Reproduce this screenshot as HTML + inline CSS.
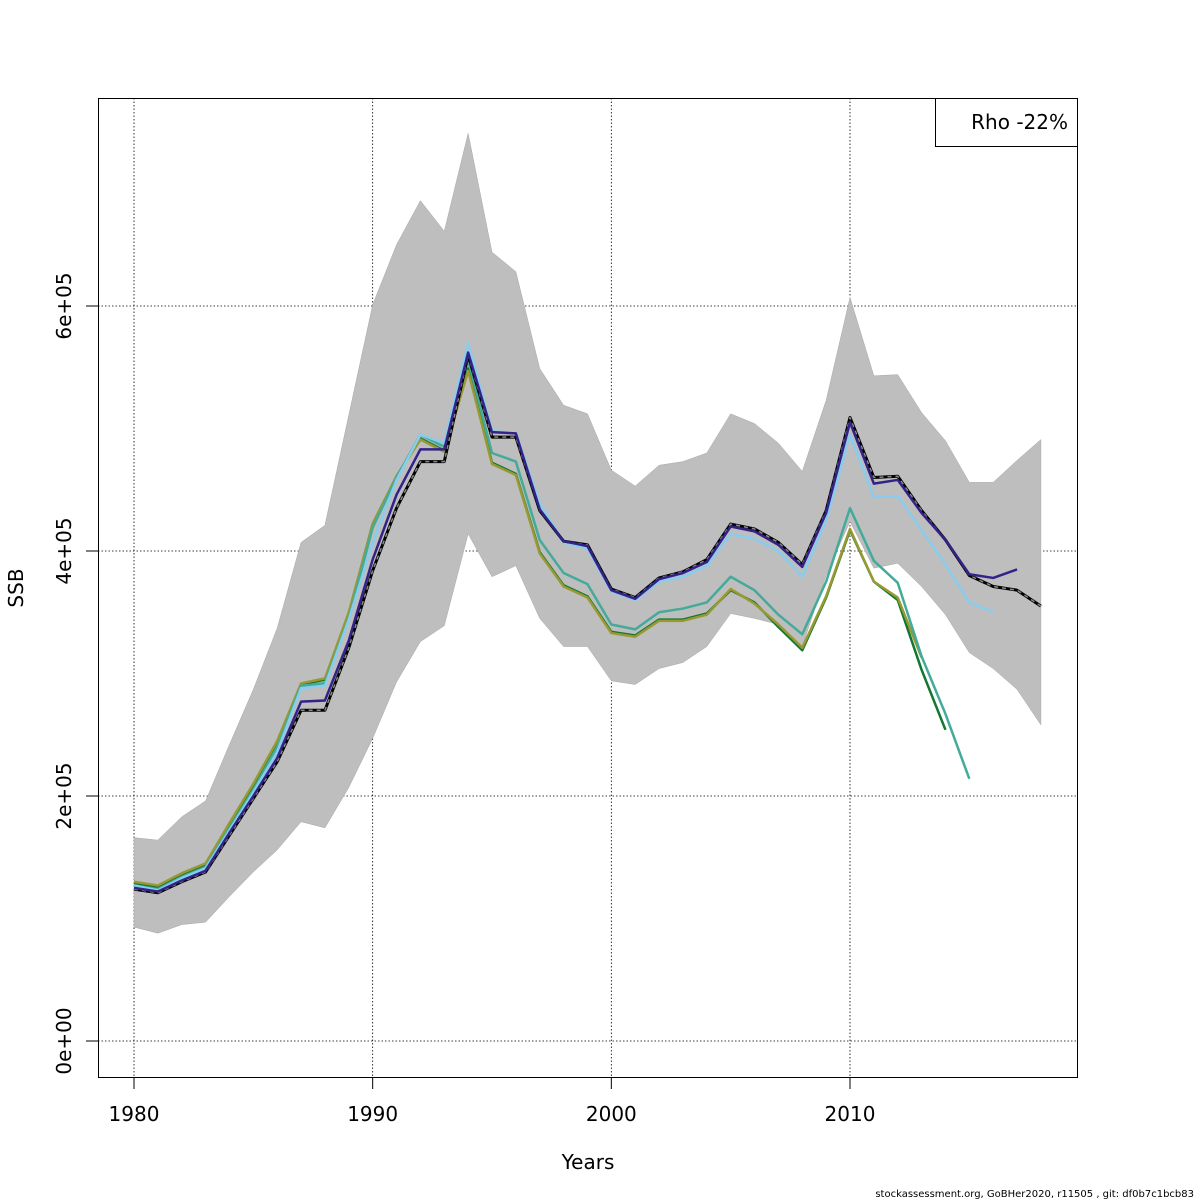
<!DOCTYPE html>
<html><head><meta charset="utf-8"><style>
html,body{margin:0;padding:0;background:#fff;}
svg{display:block;font-family:"DejaVu Sans","Liberation Sans",sans-serif;}
</style></head><body>
<svg id="chart" width="1200" height="1200" viewBox="0 0 1200 1200" xmlns="http://www.w3.org/2000/svg">
<g id="grid"></g>
<g id="band"></g>
<g id="lines"></g>
<rect x="98.5" y="98.5" width="979" height="979" fill="none" stroke="#000" stroke-width="1"/>
<g id="axes"></g>
<text x="588" y="1169" font-size="20" text-anchor="middle">Years</text>
<text transform="translate(23,588) rotate(-90)" font-size="20" text-anchor="middle">SSB</text>
<g>
<rect x="935.5" y="98.5" width="142" height="48" fill="#fff" stroke="#000"/>
<text x="1068" y="129" font-size="20" text-anchor="end">Rho -22%</text>
</g>
<text x="1194" y="1197" font-size="10" text-anchor="end">stockassessment.org, GoBHer2020, r11505 , git: df0b7c1bcb83</text>
</svg>
<script>
const years = [1980,1981,1982,1983,1984,1985,1986,1987,1988,1989,1990,1991,1992,1993,1994,1995,1996,1997,1998,1999,2000,2001,2002,2003,2004,2005,2006,2007,2008,2009,2010,2011,2012,2013,2014,2015,2016,2017,2018];
const bandUpper = [166,164,183,196,242,287,337,407,421,511,601,650,686,661,741,644,628,549,519,512,466,453,470,473,480,512,504,488,465,523,607,543,544,513,490,456,456,474,491];
const bandLower = [93,88,95,97,118,138,156,179,174,207,247,293,326,339,414,379,388,345,322,322,294,291,304,309,322,349,345,340,322,380,424,386,390,371,348,317,304,287,258];
const base = [124,121,130,138,168,198,228,270,270,321,384,435,473,473,560,493,493,433,408,405,369,362,378,383,393,422,418,407,389,433,509,460,461,433,409,380,371,368,355];
const peel1 = [125,122,131,139,170,200,231,277,278,327,393,446,483,483,562,497,496,434,408,404,368,361,377,382,391,420,416,405,387,431,505,455,458,431,409,381,378,385];
const peel2 = [127,123,133,141,172,203,236,288,290,344,407,458,495,488,570,498,496,439,407,402,367,360,375,379,388,414,410,400,379,425,495,444,445,417,389,358,350];
const peel3 = [127,124,134,142,174,205,240,290,292,345,419,460,495,485,556,480,473,409,382,373,340,336,350,353,358,379,368,348,332,375,435,392,374,314,267,214];
const peel4 = [129,125,136,144,177,209,244,291,295,349,422,461,492,482,549,472,463,399,372,363,334,331,344,344,349,368,358,338,319,362,417,375,360,303,254];
const peel5 = [130,127,137,145,178,210,245,292,296,350,422,461,491,481,547,471,462,398,371,362,333,330,343,343,348,369,357,340,321,363,418,375,362,313];
const yTicks = [0,200,400,600];
const yTickLabels = ["0e+00","2e+05","4e+05","6e+05"];
const xTicks = [1980,1990,2000,2010];

const NS="http://www.w3.org/2000/svg";
const X = y => 134 + (y-1980)*(850-134)/30;
const Y = v => 1041 - v*(245/200);
function mk(tag, attrs, parent){const e=document.createElementNS(NS,tag);for(const k in attrs)e.setAttribute(k,attrs[k]);parent.appendChild(e);return e;}
const grid=document.getElementById('grid'), band=document.getElementById('band'), lines=document.getElementById('lines'), axes=document.getElementById('axes');

xTicks.forEach(t=>{
  const l=mk('line',{x1:X(t),x2:X(t),y1:98,y2:1077,stroke:'#000','stroke-width':0.8,'stroke-dasharray':'1.5,2'},grid);
  
  
  const tk=mk('line',{x1:X(t),x2:X(t),y1:1077,y2:1089,stroke:'#000'},axes);
  
  
  const tx=mk('text',{x:X(t),y:1121,'font-size':20,'text-anchor':'middle'},axes);
  tx.textContent=t;
  
  
});
yTicks.forEach((t,i)=>{
  const l=mk('line',{x1:98,x2:1077,y1:Y(t),y2:Y(t),stroke:'#000','stroke-width':0.8,'stroke-dasharray':'1.5,2'},grid);
  
  
  const tk=mk('line',{x1:86,x2:98,y1:Y(t),y2:Y(t),stroke:'#000'},axes);
  
  
  const tx=mk('text',{transform:`translate(71,${Y(t)}) rotate(-90)`,'font-size':20,'text-anchor':'middle'},axes);
  tx.textContent=yTickLabels[i];
  
  
});

let pts=years.map((y,i)=>X(y)+','+Y(bandUpper[i]));
for(let i=years.length-1;i>=0;i--) pts.push(X(years[i])+','+Y(bandLower[i]));
const poly=mk('polygon',{points:pts.join(' '),fill:'#bebebe',stroke:'#a8a8a8','stroke-width':0.5},band);



function line(arr,color,name,w,dash){
  const p=arr.map((v,i)=>X(years[i])+','+Y(v)).join(' ');
  const a={points:p,fill:'none',stroke:color,'stroke-width':w,'stroke-linejoin':'round'};
  if(dash)a['stroke-dasharray']=dash;
  const e=mk('polyline',a,lines);
  
  
}
line(peel4,'#117733','peel-line-2014',2.5);
line(peel5,'#999933','peel-line-2013',2.5);
line(peel3,'#44aa99','peel-line-2015',2.5);
line(peel2,'#88ccee','peel-line-2016',2.5);
line(base,'#000','base-line-under',3);
line(base,'#888','base-line-dash',1.5,'4,4');
line(peel1,'#332288','peel-line-2017',2.5);
</script>
</body></html>
